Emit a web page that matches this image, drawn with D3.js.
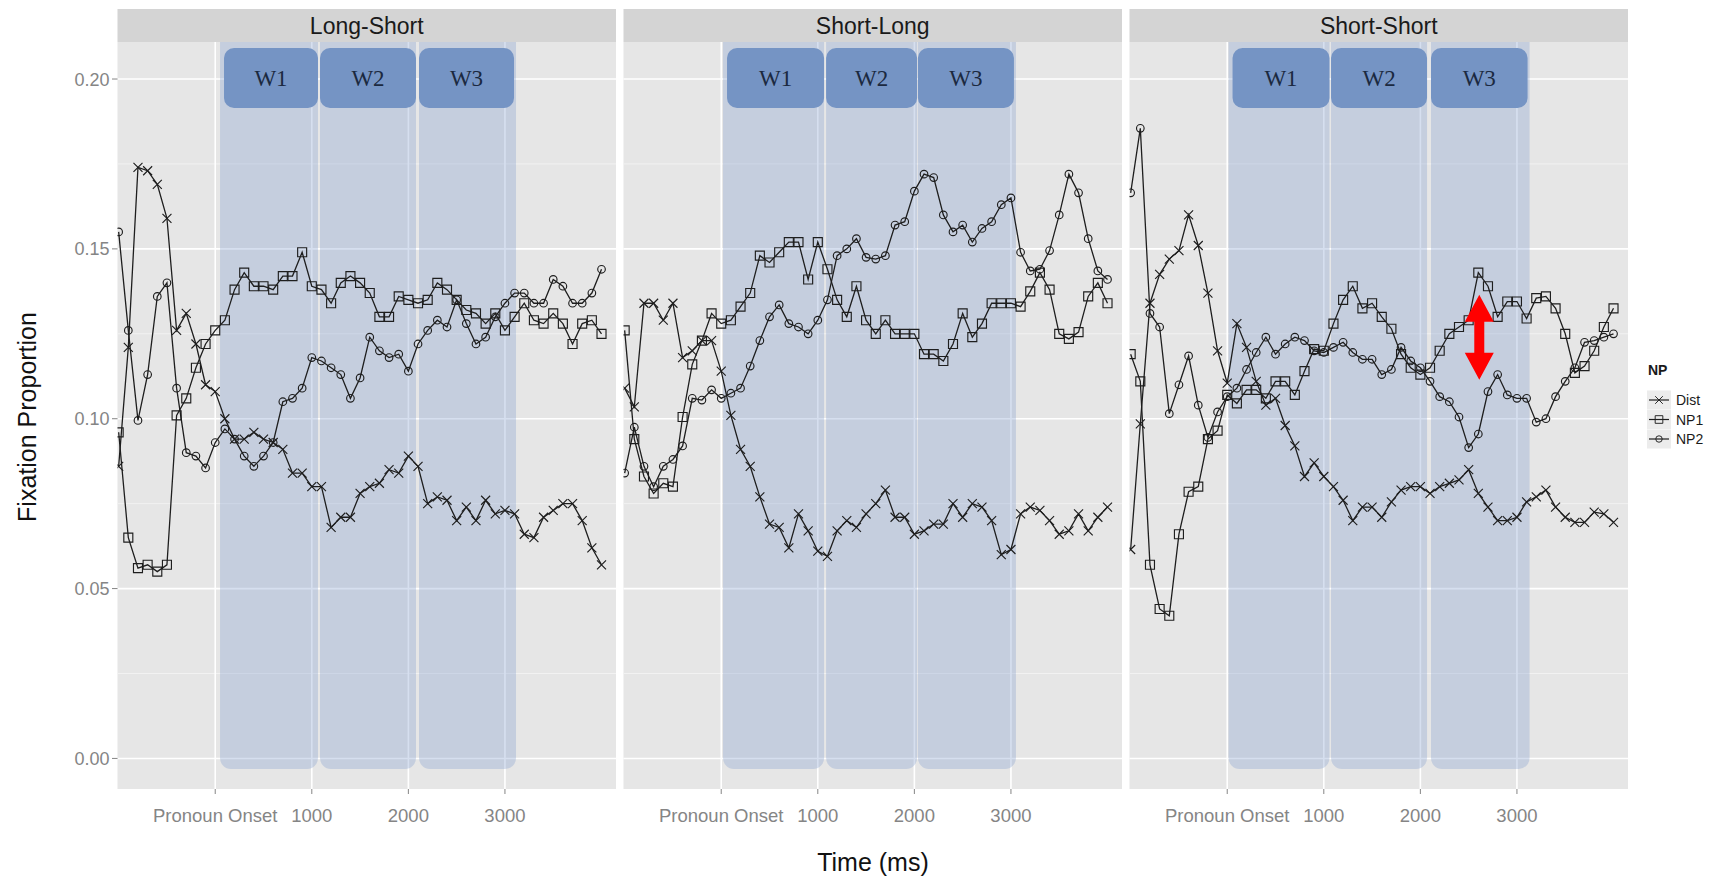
<!DOCTYPE html>
<html>
<head>
<meta charset="utf-8">
<script src="https://cdn.jsdelivr.net/npm/d3@7"></script>
<style>
  body { margin: 0; background: #ffffff; }
  text { font-family: "Liberation Sans", Arial, sans-serif; }
  text.wlabel { font-family: "Liberation Serif", "Times New Roman", serif; }
</style>
</head>
<body>
<div id="container"></div>
<script>
// time bins (ms relative to pronoun onset)
const times = [-1000, -900, -800, -700, -600, -500, -400, -300, -200, -100,
  0, 100, 200, 300, 400, 500, 600, 700, 800, 900,
  1000, 1100, 1200, 1300, 1400, 1500, 1600, 1700, 1800, 1900,
  2000, 2100, 2200, 2300, 2400, 2500, 2600, 2700, 2800, 2900,
  3000, 3100, 3200, 3300, 3400, 3500, 3600, 3700, 3800, 3900, 4000];

const panels = ["Long-Short", "Short-Long", "Short-Short"];
const npLevels = ["Dist", "NP1", "NP2"];

const longShortDist = [.086, .121, .174, .173, .169, .159, .126, .131, .122, .110,
  .108, .100, .094, .094, .096, .094, .093, .091, .084, .084,
  .080, .080, .068, .071, .071, .078, .080, .081, .085, .084,
  .089, .086, .075, .077, .076, .070, .074, .070, .076, .072,
  .073, .072, .066, .065, .071, .073, .075, .075, .070, .062, .057];
const longShortNP1 = [.096, .065, .056, .057, .055, .057, .101, .106, .115, .122,
  .126, .129, .138, .143, .139, .139, .138, .142, .142, .149,
  .139, .138, .134, .140, .142, .140, .137, .130, .130, .136,
  .135, .134, .135, .140, .138, .135, .132, .131, .128, .131,
  .126, .130, .134, .129, .128, .131, .128, .122, .128, .129, .125];
const longShortNP2 = [.155, .126, .0995, .113, .136, .140, .109, .090, .089, .0855,
  .093, .097, .094, .089, .086, .089, .093, .105, .106, .109,
  .118, .117, .115, .113, .106, .112, .124, .120, .118, .119,
  .114, .122, .126, .129, .127, .135, .128, .122, .124, .130,
  .134, .137, .137, .134, .134, .141, .139, .134, .134, .137, .144];

const shortLongDist = [.109, .1035, .134, .134, .129, .134, .118, .120, .123, .123,
  .114, .101, .091, .086, .077, .069, .068, .062, .072, .067,
  .061, .0595, .067, .070, .068, .072, .075, .079, .071, .071,
  .066, .067, .069, .069, .075, .071, .075, .074, .070, .060,
  .0615, .072, .074, .073, .070, .066, .067, .072, .067, .071, .074];
const shortLongNP1 = [.126, .094, .083, .078, .081, .080, .1005, .116, .123, .131,
  .128, .129, .133, .137, .148, .146, .149, .152, .152, .141,
  .152, .144, .135, .130, .139, .129, .125, .129, .125, .125,
  .125, .119, .119, .117, .122, .131, .124, .128, .134, .134,
  .134, .133, .1375, .143, .138, .125, .1235, .1255, .136, .140, .134];
const shortLongNP2 = [.084, .0975, .086, .080, .086, .088, .092, .106, .1055, .1085,
  .106, .1075, .109, .1155, .123, .130, .1335, .128, .127, .125,
  .129, .135, .148, .150, .153, .1475, .147, .148, .157, .158,
  .167, .172, .171, .160, .155, .157, .152, .156, .158, .163,
  .165, .149, .1435, .144, .1495, .160, .172, .1665, .153, .1435, .141];

const shortShortDist = [.0615, .0985, .134, .1425, .147, .1495, .160, .151, .137, .120,
  .1105, .128, .121, .111, .104, .106, .098, .092, .083, .087,
  .083, .080, .076, .070, .074, .074, .071, .0755, .079, .080,
  .080, .078, .080, .081, .082, .085, .078, .074, .070, .070,
  .071, .0755, .077, .079, .074, .071, .0695, .0695, .0725, .072, .0695];
const shortShortNP1 = [.119, .111, .057, .044, .042, .066, .0785, .080, .094, .0965,
  .107, .1045, .1085, .1085, .106, .111, .111, .107, .114, .1205,
  .120, .128, .135, .139, .1325, .134, .130, .1265, .119, .115,
  .113, .115, .120, .125, .127, .129, .143, .139, .130, .1345,
  .1345, .1295, .1355, .136, .1325, .125, .1135, .1155, .120, .127, .1325];
const shortShortNP2 = [.1665, .1855, .131, .127, .1015, .110, .1185, .104, .0945, .102,
  .1065, .109, .1145, .1195, .124, .119, .122, .124, .123, .120,
  .1195, .121, .1225, .1195, .1175, .1175, .113, .1145, .121, .117,
  .115, .111, .1065, .105, .1005, .0915, .0955, .108, .113, .107,
  .106, .106, .099, .100, .1065, .111, .115, .1225, .123, .124, .125];

// analysis windows drawn over each facet (ms)
const windowLabels = ["W1", "W2", "W3"];
const windowsLongShort = [[91, 1064], [1085, 2079], [2110, 3094]];
const windowsShortLong = [[60, 1065], [1086, 2028], [2037, 3031]];
const windowsShortShort = [[55, 1059], [1075, 2069], [2110, 3110]];

const yTicks = [0, 0.05, 0.10, 0.15, 0.20];
const yMinorTicks = [0.025, 0.075, 0.125, 0.175];
const xTicks = [0, 1000, 2000, 3000];
const xTickLabels = ["Pronoun Onset", "1000", "2000", "3000"];

// red double arrow in the Short-Short facet
const arrowNote = { panel: "Short-Short", time: 2610, from: 0.1365, to: 0.1115 };

function FacetLinePlot({
    width = 1722,
    height = 879,
    panelLeft = 117.5,
    panelWidth = 498.5,
    panelGap = 7.5,
    stripTop = 9,
    panelTop = 42,
    panelBottom = 789,
    bandBottom = 769,
  } = {}) {

    const svg = d3.select("#container").append("svg")
        .attr("width", width)
        .attr("height", height);

    const seriesByPanel = {
      "Long-Short": [longShortDist, longShortNP1, longShortNP2],
      "Short-Long": [shortLongDist, shortLongNP1, shortLongNP2],
      "Short-Short": [shortShortDist, shortShortNP1, shortShortNP2]
    };
    const windowsByPanel = {
      "Long-Short": windowsLongShort,
      "Short-Long": windowsShortLong,
      "Short-Short": windowsShortShort
    };

    const x = d3.scaleLinear().domain([-1012, 4150]).range([0, panelWidth]);
    const y = d3.scaleLinear().domain([-0.009, 0.2109]).range([panelBottom, panelTop]);

    const line = d3.line()
        .x(d => x(d.t))
        .y(d => y(d.v));

    const markerPath = {
      Dist: "M-4.5,-4.5L4.5,4.5M-4.5,4.5L4.5,-4.5",
      NP1: "M-4.5,-4.5H4.5V4.5H-4.5Z",
      NP2: "M3.8,0A3.8,3.8 0 1,1 -3.8,0A3.8,3.8 0 1,1 3.8,0Z"
    };

    const ink = "#1e1e1e";
    const axisGrey = "#858585";

    panels.forEach((name, i) => {
      const px = panelLeft + i * (panelWidth + panelGap);
      const g = svg.append("g").attr("transform", "translate(" + px + ",0)");

      const clipId = "clip" + i;
      g.append("clipPath").attr("id", clipId)
        .append("rect")
        .attr("x", 0).attr("y", panelTop)
        .attr("width", panelWidth).attr("height", panelBottom - panelTop);

      // strip
      g.append("rect")
        .attr("x", 0).attr("y", stripTop)
        .attr("width", panelWidth).attr("height", panelTop - stripTop)
        .attr("fill", "#d4d4d4");
      g.append("text")
        .attr("x", panelWidth / 2).attr("y", (stripTop + panelTop) / 2 + 8)
        .attr("text-anchor", "middle")
        .attr("font-size", 23)
        .attr("fill", "#1a1a1a")
        .text(name);

      // panel background + grid
      g.append("rect")
        .attr("x", 0).attr("y", panelTop)
        .attr("width", panelWidth).attr("height", panelBottom - panelTop)
        .attr("fill", "#e6e6e6");

      g.selectAll(".minor").data(yMinorTicks).enter().append("line")
        .attr("x1", 0).attr("x2", panelWidth)
        .attr("y1", d => y(d)).attr("y2", d => y(d))
        .attr("stroke", "#f2f2f2").attr("stroke-width", 1);

      g.selectAll(".major").data(yTicks).enter().append("line")
        .attr("x1", 0).attr("x2", panelWidth)
        .attr("y1", d => y(d)).attr("y2", d => y(d))
        .attr("stroke", "#ffffff").attr("stroke-width", 1.6);

      g.selectAll(".vmajor").data(xTicks).enter().append("line")
        .attr("x1", d => x(d)).attr("x2", d => x(d))
        .attr("y1", panelTop).attr("y2", panelBottom)
        .attr("stroke", "#ffffff").attr("stroke-width", 1.6);

      // highlighted windows
      const wins = windowsByPanel[name];
      const bands = g.append("g").attr("clip-path", "url(#" + clipId + ")");
      bands.selectAll("rect").data(wins).enter().append("rect")
        .attr("x", (d, k) => x(d[0]) - (k === 0 ? 4 : 0))
        .attr("width", (d, k) => x(d[1]) - x(d[0]) + (k === 0 ? 4 : 0) + (k === wins.length - 1 ? 2 : 0))
        .attr("y", panelTop - 20)
        .attr("height", bandBottom - panelTop + 20)
        .attr("rx", 11)
        .attr("fill", "rgba(128,156,206,0.32)");

      // series
      const data = seriesByPanel[name];
      const plot = g.append("g").attr("clip-path", "url(#" + clipId + ")");
      npLevels.forEach((level, s) => {
        const pts = times.map((t, k) => ({ t: t, v: data[s][k] }));
        plot.append("path")
          .datum(pts)
          .attr("d", line)
          .attr("fill", "none")
          .attr("stroke", ink)
          .attr("stroke-width", 1.3);
        plot.selectAll(".pt" + s).data(pts).enter().append("path")
          .attr("transform", d => "translate(" + x(d.t) + "," + y(d.v) + ")")
          .attr("d", markerPath[level])
          .attr("fill", "none")
          .attr("stroke", ink)
          .attr("stroke-width", 1.15);
      });

      // window label boxes
      const boxes = g.selectAll(".wbox").data(wins).enter().append("g");
      boxes.append("rect")
        .attr("x", d => x(d[0]))
        .attr("width", d => x(d[1]) - x(d[0]))
        .attr("y", 48).attr("height", 60)
        .attr("rx", 10)
        .attr("fill", "#7594c4");
      boxes.append("text")
        .attr("class", "wlabel")
        .attr("x", d => (x(d[0]) + x(d[1])) / 2)
        .attr("y", 86)
        .attr("text-anchor", "middle")
        .attr("font-size", 23)
        .attr("fill", "#1b2940")
        .text((d, k) => windowLabels[k]);

      // x axis
      const xa = g.append("g");
      xa.selectAll("line").data(xTicks).enter().append("line")
        .attr("x1", d => x(d)).attr("x2", d => x(d))
        .attr("y1", panelBottom).attr("y2", panelBottom + 5)
        .attr("stroke", axisGrey);
      xa.selectAll("text").data(xTicks).enter().append("text")
        .attr("x", d => x(d)).attr("y", 822)
        .attr("text-anchor", "middle")
        .attr("font-size", 18.5)
        .attr("fill", axisGrey)
        .text((d, k) => xTickLabels[k]);

      // annotation arrow
      if (name === arrowNote.panel) {
        const ax = x(arrowNote.time), y1 = y(arrowNote.from), y2 = y(arrowNote.to);
        const hh = 27, hw = 14.5, sw = 5;
        g.append("path")
          .attr("d", "M" + ax + "," + y1 +
            "L" + (ax + hw) + "," + (y1 + hh) + "L" + (ax + sw) + "," + (y1 + hh) +
            "L" + (ax + sw) + "," + (y2 - hh) + "L" + (ax + hw) + "," + (y2 - hh) +
            "L" + ax + "," + y2 +
            "L" + (ax - hw) + "," + (y2 - hh) + "L" + (ax - sw) + "," + (y2 - hh) +
            "L" + (ax - sw) + "," + (y1 + hh) + "L" + (ax - hw) + "," + (y1 + hh) + "Z")
          .attr("fill", "#ff0000");
      }
    });

    // y axis
    const ya = svg.append("g");
    ya.selectAll("line").data(yTicks).enter().append("line")
      .attr("x1", panelLeft - 5.5).attr("x2", panelLeft)
      .attr("y1", d => y(d)).attr("y2", d => y(d))
      .attr("stroke", axisGrey);
    ya.selectAll("text").data(yTicks).enter().append("text")
      .attr("x", panelLeft - 8).attr("y", d => y(d) + 6.5)
      .attr("text-anchor", "end")
      .attr("font-size", 18)
      .attr("fill", axisGrey)
      .text(d => d3.format(".2f")(d));

    // axis titles
    svg.append("text")
      .attr("x", 873).attr("y", 871)
      .attr("text-anchor", "middle")
      .attr("font-size", 25)
      .attr("fill", "#111")
      .text("Time (ms)");
    svg.append("text")
      .attr("transform", "translate(36,417) rotate(-90)")
      .attr("text-anchor", "middle")
      .attr("font-size", 25)
      .attr("fill", "#111")
      .text("Fixation Proportion");

    // legend
    const lg = svg.append("g").attr("transform", "translate(1647,0)");
    lg.append("text")
      .attr("x", 1).attr("y", 375)
      .attr("font-size", 14).attr("font-weight", "bold")
      .attr("fill", "#1a1a1a")
      .text("NP");
    npLevels.forEach((level, s) => {
      const cy = 400 + s * 19.5;
      lg.append("rect")
        .attr("x", 0).attr("y", cy - 9.5)
        .attr("width", 24).attr("height", 19)
        .attr("fill", "#ececec");
      lg.append("line")
        .attr("x1", 2).attr("x2", 22)
        .attr("y1", cy).attr("y2", cy)
        .attr("stroke", ink).attr("stroke-width", 1.2);
      lg.append("path")
        .attr("transform", "translate(12," + cy + ") scale(0.85)")
        .attr("d", markerPath[level])
        .attr("fill", "none")
        .attr("stroke", ink)
        .attr("stroke-width", 1.1);
      lg.append("text")
        .attr("x", 29).attr("y", cy + 5)
        .attr("font-size", 14)
        .attr("fill", "#1a1a1a")
        .text(level);
    });
}

FacetLinePlot();
</script>
</body>
</html>
